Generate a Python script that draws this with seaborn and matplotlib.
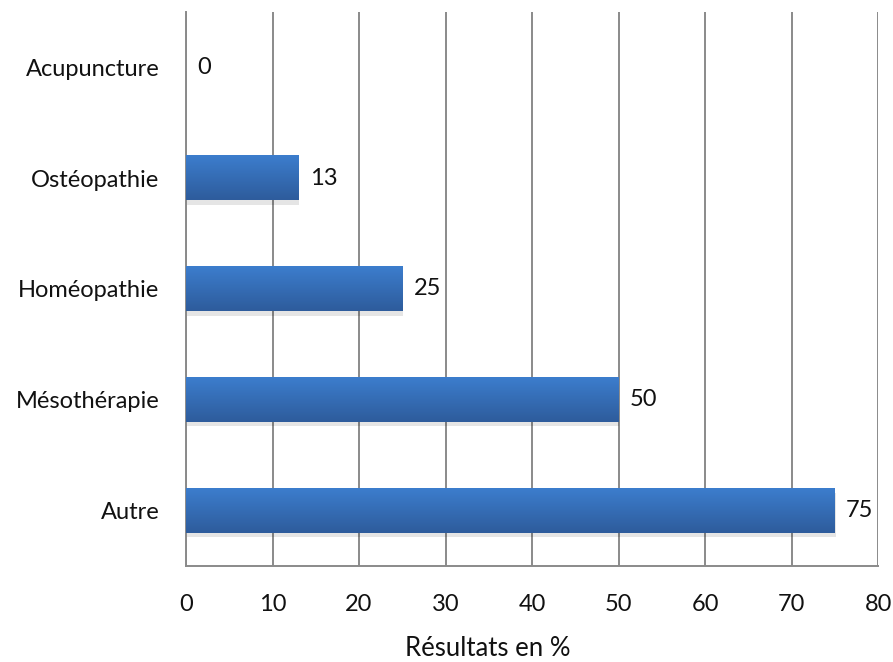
import numpy as np
import pandas as pd
import seaborn as sns
import matplotlib.pyplot as plt
from matplotlib.colors import LinearSegmentedColormap

categories = ["Acupuncture", "Ostéopathie", "Homéopathie", "Mésothérapie", "Autre"]
values = [0, 13, 25, 50, 75]
xticks = [0, 10, 20, 30, 40, 50, 60, 70, 80]

df = pd.DataFrame({"Therapie": categories, "Pourcentage": values})

sns.set_theme(style="white")
plt.rcParams['font.family'] = ['Lato', 'DejaVu Sans']

fig = plt.figure(figsize=(8.93, 6.62), dpi=100)
ax = fig.add_axes([0.2083, 0.145, 0.775, 0.837])

sns.barplot(data=df, x="Pourcentage", y="Therapie", order=categories,
            color="#3A78C6", width=0.4, ax=ax, zorder=3)

# gradient fill + soft shadow like the Excel bars
grad = LinearSegmentedColormap.from_list("bar", ["#3C7DCD", "#2E5C9C"])
for p in list(ax.patches):
    p.set_alpha(0)
    p.set_linewidth(0)
    w = p.get_width()
    if w <= 0:
        continue
    x0, y0, h = p.get_x(), p.get_y(), p.get_height()
    ax.add_patch(plt.Rectangle((x0 + 0.1, y0 + 0.04), w, h, color="#000000",
                               alpha=0.10, zorder=2, lw=0))
    img = np.linspace(0, 1, 50).reshape(-1, 1)
    ax.imshow(img, cmap=grad, aspect="auto", extent=(x0, x0 + w, y0 + h, y0),
              zorder=4, origin="upper")

for i, v in enumerate(values):
    ax.annotate(str(v), (v, i), xytext=(8, 0), textcoords="offset points",
                va="center", ha="left", fontsize=17, color="#111111", zorder=5)

ax.set_xlim(0, 80)
ax.set_ylim(len(categories) - 0.5, -0.5)
ax.set_xticks(xticks)
ax.set_xticklabels([str(t) for t in xticks], fontsize=17)
ax.tick_params(axis="y", labelsize=17, length=0, pad=19)
ax.tick_params(axis="x", length=0, pad=20)
for t in ax.get_yticklabels():
    t.set_color("#111111")
for t in ax.get_xticklabels():
    t.set_color("#111111")

ax.grid(axis="x", color="#8a8a8a", lw=1.4, zorder=1)
ax.grid(axis="y", visible=False)
for s in ["top", "right"]:
    ax.spines[s].set_visible(False)
for s in ["left", "bottom"]:
    ax.spines[s].set_color("#8a8a8a")
    ax.spines[s].set_linewidth(1.4)

ax.set_ylabel("")
ax.set_xlabel("Résultats en %", fontsize=18.5, color="#111111")
ax.xaxis.set_label_coords(0.436, -0.148)
ax.xaxis.label.set_va("center")

fig.savefig("out.png", dpi=100)
